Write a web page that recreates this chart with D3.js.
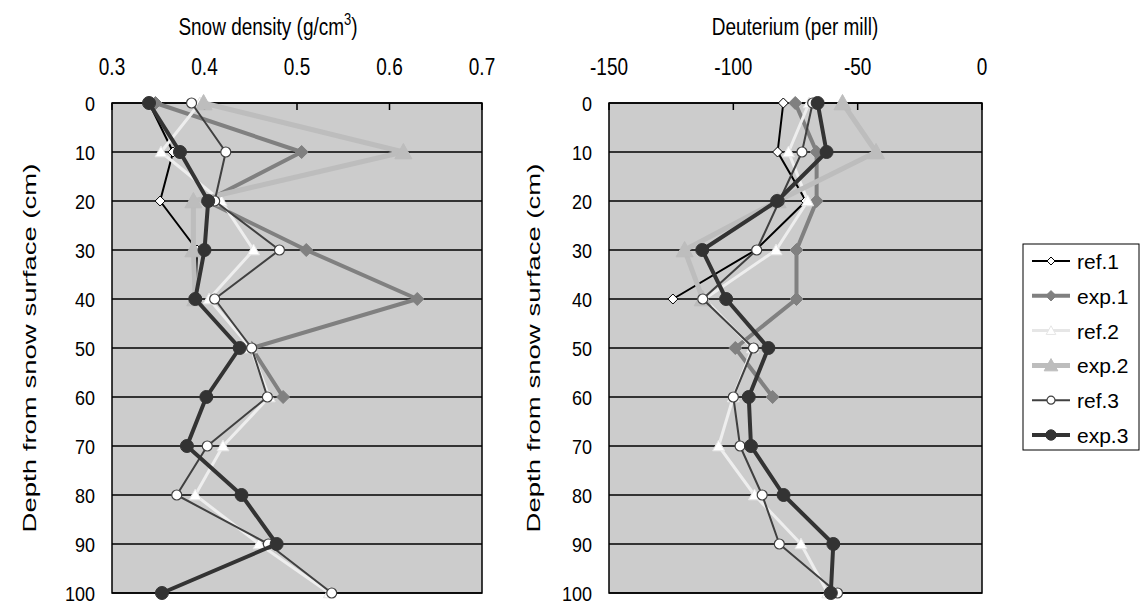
<!DOCTYPE html>
<html>
<head>
<meta charset="utf-8">
<script src="https://cdn.jsdelivr.net/npm/d3@7"></script>
<style>
  body { margin: 0; background: #fff; }
  text { font-family: "Liberation Sans", Arial, sans-serif; fill: #000; }
</style>
</head>
<body>
<div id="chart"></div>
<script>
const width = 1142;
const height = 604;

// depths (cm) shared by both panels
const depths = [0, 10, 20, 30, 40, 50, 60, 70, 80, 90, 100];

// snow density (g/cm3)
const densRef1 = [0.34, 0.366, 0.352, 0.392, 0.39];
const densExp1 = [0.347, 0.505, 0.402, 0.51, 0.63, 0.451, 0.485];
const densRef2 = [0.395, 0.353, 0.418, 0.453, 0.405, 0.45, 0.47, 0.42, 0.39, 0.459, 0.535];
const densExp2 = [0.399, 0.615, 0.388, 0.388, 0.39];
const densRef3 = [0.386, 0.423, 0.411, 0.481, 0.411, 0.451, 0.468, 0.403, 0.37, 0.469, 0.5375];
const densExp3 = [0.34, 0.3735, 0.404, 0.4, 0.39, 0.438, 0.402, 0.381, 0.44, 0.478, 0.354];

// deuterium (per mill)
const deutRef1 = [-79.9, -82.2, -70.8, -91, -124.3];
const deutExp1 = [-75.1, -66.5, -66.5, -74.6, -74.6, -99.2, -84.2];
const deutRef2 = [-69.5, -77.8, -70.1, -82.8, -111.6, -92.3, -100, -105.9, -91.5, -72.8, -62];
const deutExp2 = [-56.1, -42.6, -82.2, -119.6, -112.3];
const deutRef3 = [-68.1, -72.4, -81.5, -90.6, -112.3, -91.9, -100, -97.3, -88.4, -81.5, -58.1];
const deutExp3 = [-66.1, -62.5, -82.4, -112.5, -102.9, -85.9, -93.8, -92.9, -79.8, -59.8, -60.8];

const seriesNames = ["ref.1", "exp.1", "ref.2", "exp.2", "ref.3", "exp.3"];
const densTicks = [0.3, 0.4, 0.5, 0.6, 0.7];
const deutTicks = [-150, -100, -50, 0];
const depthTicks = [0, 10, 20, 30, 40, 50, 60, 70, 80, 90, 100];

// marker / line styles per series
const styles = {
  "ref.1": { line: "#000000", lw: 2, shape: "diamond", size: 10, fill: "#ffffff", stroke: "#000000", sw: 1 },
  "exp.1": { line: "#808080", lw: 4, shape: "diamond", size: 13, fill: "#808080", stroke: "#808080", sw: 1 },
  "ref.2": { line: "#eeeeee", lw: 3, shape: "triangle", size: 12, fill: "#ffffff", stroke: "#e6e6e6", sw: 1 },
  "exp.2": { line: "#bdbdbd", lw: 5, shape: "triangle", size: 17, fill: "#bdbdbd", stroke: "#bdbdbd", sw: 1 },
  "ref.3": { line: "#404040", lw: 2, shape: "circle", size: 10, fill: "#ffffff", stroke: "#404040", sw: 1.2 },
  "exp.3": { line: "#333333", lw: 4, shape: "circle", size: 13, fill: "#333333", stroke: "#333333", sw: 1 }
};

// text in the original is stretched vertically
const stretch = 1.3;

const svg = d3.select("#chart")
  .append("svg")
  .attr("width", width)
  .attr("height", height);

const y = d3.scaleLinear().domain([0, 100]).range([103, 593]);

function markerPath(shape, size) {
  if (shape === "diamond") {
    const h = size / 2;
    return `M0,${-h}L${h},0L0,${h}L${-h},0Z`;
  }
  if (shape === "triangle") {
    const h = size / 2;
    return `M0,${-h}L${h},${h * 0.8}L${-h},${h * 0.8}Z`;
  }
  return d3.symbol().type(d3.symbolCircle).size(Math.PI * (size / 2) * (size / 2))();
}

function drawPanel(opts) {
  const x = d3.scaleLinear().domain(opts.domain).range(opts.range);
  const g = svg.append("g");
  const [x0, x1] = opts.range;

  // plot background
  g.append("rect")
    .attr("x", x0)
    .attr("y", y(0))
    .attr("width", x1 - x0)
    .attr("height", y(100) - y(0))
    .attr("fill", "#cccccc")
    .attr("stroke", "#000")
    .attr("stroke-width", 1.5);

  // horizontal gridlines
  g.selectAll(".grid")
    .data(depthTicks)
    .enter()
    .append("line")
    .attr("x1", x0)
    .attr("x2", x1)
    .attr("y1", d => y(d))
    .attr("y2", d => y(d))
    .attr("stroke", "#000")
    .attr("stroke-width", 1.5);

  // top axis ticks (inside)
  g.selectAll(".xtick")
    .data(opts.ticks)
    .enter()
    .append("line")
    .attr("x1", d => x(d))
    .attr("x2", d => x(d))
    .attr("y1", y(0))
    .attr("y2", y(0) + 7)
    .attr("stroke", "#000")
    .attr("stroke-width", 1.5);

  g.selectAll(".xlabel")
    .data(opts.ticks)
    .enter()
    .append("text")
    .attr("transform", d => `translate(${x(d)},75) scale(1,${stretch})`)
    .attr("text-anchor", "middle")
    .style("font-size", "19px")
    .text(d => d);

  // left axis labels
  g.selectAll(".ylabel")
    .data(depthTicks)
    .enter()
    .append("text")
    .attr("transform", d => `translate(${x0 - 17},${y(d) + 7.5}) scale(1,1.15)`)
    .attr("text-anchor", "end")
    .style("font-size", "18px")
    .text(d => d);

  // axis titles
  const title = g.append("text")
    .attr("transform", `translate(${opts.titleX},35) scale(1,${stretch})`)
    .attr("text-anchor", "middle")
    .style("font-size", "19px");
  title.append("tspan").text(opts.title);
  if (opts.sup) {
    title.append("tspan").attr("dy", -8).style("font-size", "13px").text(opts.sup);
    title.append("tspan").attr("dy", 8).text(")");
  }

  g.append("text")
    .attr("transform", `translate(${opts.yTitleX},${(y(0) + y(100)) / 2}) rotate(-90) scale(1.45,1)`)
    .attr("text-anchor", "middle")
    .style("font-size", "19px")
    .text("Depth from snow surface (cm)");

  // series
  const line = d3.line()
    .x(d => x(d[0]))
    .y(d => y(d[1]));

  opts.series.forEach((vals, i) => {
    const name = seriesNames[i];
    const st = styles[name];
    const pts = vals.map((v, j) => [v, depths[j]]);
    const sg = g.append("g");

    sg.append("path")
      .attr("d", line(pts))
      .attr("fill", "none")
      .attr("stroke", st.line)
      .attr("stroke-width", st.lw)
      .attr("stroke-linejoin", "round");

    sg.selectAll("path.m")
      .data(pts)
      .enter()
      .append("path")
      .attr("class", "m")
      .attr("transform", d => `translate(${x(d[0])},${y(d[1])})`)
      .attr("d", markerPath(st.shape, st.size))
      .attr("fill", st.fill)
      .attr("stroke", st.stroke)
      .attr("stroke-width", st.sw);
  });
}

drawPanel({
  domain: [0.3, 0.7],
  range: [112, 482],
  ticks: densTicks,
  title: "Snow density (g/cm",
  sup: "3",
  titleX: 268,
  yTitleX: 36,
  series: [densRef1, densExp1, densRef2, densExp2, densRef3, densExp3]
});

drawPanel({
  domain: [-150, 0],
  range: [609, 982],
  ticks: deutTicks,
  title: "Deuterium (per mill)",
  titleX: 795,
  yTitleX: 540,
  series: [deutRef1, deutExp1, deutRef2, deutExp2, deutRef3, deutExp3]
});

// Legend
const legend = svg.append("g");

legend.append("rect")
  .attr("x", 1023)
  .attr("y", 244)
  .attr("width", 116)
  .attr("height", 206)
  .attr("fill", "#fff")
  .attr("stroke", "#000")
  .attr("stroke-width", 1);

const legendItem = legend.selectAll(".legend-item")
  .data(seriesNames)
  .enter()
  .append("g")
  .attr("transform", (d, i) => `translate(1032, ${261 + i * 34.8})`);

legendItem.append("line")
  .attr("x1", 0)
  .attr("x2", 38)
  .attr("stroke", d => styles[d].line === "#eeeeee" ? "#e6e6e6" : styles[d].line)
  .attr("stroke-width", d => styles[d].lw);

legendItem.append("path")
  .attr("transform", "translate(19,0)")
  .attr("d", d => markerPath(styles[d].shape, styles[d].size * 0.8))
  .attr("fill", d => styles[d].fill)
  .attr("stroke", d => styles[d].stroke)
  .attr("stroke-width", d => styles[d].sw);

legendItem.append("text")
  .attr("x", 45)
  .attr("y", 8)
  .style("font-size", "21px")
  .text(d => d);
</script>
</body>
</html>
